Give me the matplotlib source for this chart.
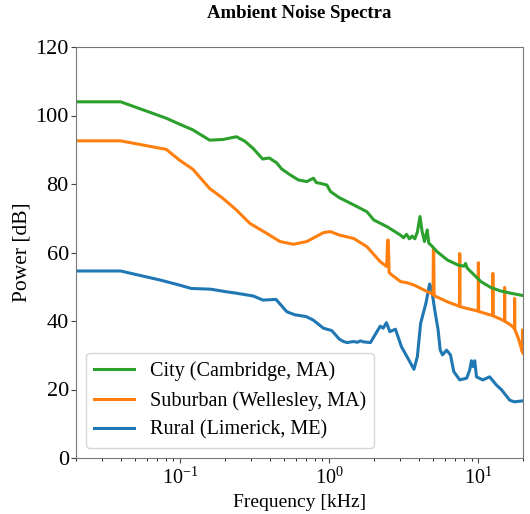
import matplotlib
matplotlib.use("Agg")
import matplotlib.pyplot as plt
import numpy as np

plt.rcParams['font.family'] = ['Liberation Serif', 'DejaVu Serif']
plt.rcParams['mathtext.fontset'] = 'stix'

# City (Cambridge, MA)
city_f = [0.02, 0.04, 0.081, 0.099, 0.122, 0.158, 0.194, 0.239, 0.272, 0.309, 0.358, 0.396,
          0.444, 0.48, 0.546, 0.62, 0.708, 0.784, 0.82, 0.87, 0.965, 1.02, 1.17, 1.46, 1.79,
          1.99, 2.45, 3.0, 3.15, 3.3, 3.45, 3.6, 3.75, 3.9, 4.06, 4.2, 4.35, 4.54, 4.65, 4.8,
          5.3, 6.2, 7.25, 8.0, 8.2, 8.4, 8.9, 10.4, 12.1, 14.0, 15.7, 18.0, 20.0]
city_p = [104, 104, 99.2, 97.5, 95.8, 92.8, 93.0, 93.8, 92.5, 90.4, 87.3, 87.6,
          86.2, 84.4, 82.7, 81.2, 80.7, 81.7, 80.4, 80.2, 79.7, 77.8, 76.0, 73.9, 71.9,
          69.5, 67.5, 65.1, 64.3, 65.3, 64.0, 64.8, 64.0, 66.0, 70.5, 66.0, 63.2, 66.6, 62.7, 62.2,
          60.2, 57.8, 56.4, 56.0, 56.8, 55.5, 54.4, 51.5, 49.8, 48.8, 48.3, 47.8, 47.4]

# Suburban (Wellesley, MA)
sub_f = [0.02, 0.04, 0.081, 0.099, 0.122, 0.158, 0.194, 0.239, 0.294, 0.381, 0.468, 0.575,
         0.708, 0.915, 1.016, 1.17, 1.46, 1.79, 2.2, 2.43, 2.46, 2.49, 2.52, 2.6, 3.01, 3.3,
         3.7, 4.54, 4.97, 4.99, 5.02, 5.05, 6.2, 7.46, 7.5, 7.53, 8.5, 9.96, 10.0, 10.04,
         11.5, 12.46, 12.5, 12.55, 14.0, 14.95, 15.0, 15.06, 16.5, 17.45, 17.5, 17.56,
         18.5, 19.4, 19.7, 19.75, 19.8, 20.0]
sub_p = [92.6, 92.6, 90.1, 87.0, 84.3, 78.7, 75.8, 72.4, 68.5, 65.6, 63.2, 62.4,
         63.2, 65.8, 66.1, 65.1, 64.1, 61.7, 57.3, 55.9, 63.6, 63.6, 54.2, 53.6, 51.5, 51.2,
         50.5, 48.6, 47.8, 61.0, 61.0, 47.4, 45.6, 44.3, 59.7, 44.2, 43.6, 42.9, 57.0, 42.8,
         42.0, 41.6, 53.9, 41.5, 40.6, 40.0, 49.8, 39.9, 38.8, 37.8, 46.6, 37.5,
         35.0, 32.0, 31.0, 37.4, 30.8, 30.5]

# Rural (Limerick, ME)
rur_f = [0.02, 0.04, 0.073, 0.099, 0.119, 0.16, 0.2, 0.24, 0.31, 0.36, 0.44, 0.52, 0.59,
         0.70, 0.78, 0.915, 1.04, 1.17, 1.25, 1.32, 1.45, 1.55, 1.62, 1.7, 1.89, 2.09, 2.2,
         2.3, 2.42, 2.55, 2.78, 3.05, 3.42, 3.70, 3.9, 4.10, 4.45, 4.71, 4.85, 5.1, 5.37,
         5.55, 5.75, 6.12, 6.5, 6.84, 7.5, 8.34, 8.75, 8.98, 9.21, 9.45, 9.71, 10.7, 11.9,
         13.2, 14.3, 16.2, 17.4, 20.0]
rur_p = [54.6, 54.6, 52.0, 50.5, 49.5, 49.3, 48.6, 48.1, 47.3, 46.1, 46.3, 42.7, 41.8,
         41.3, 40.3, 37.9, 37.2, 34.7, 34.0, 33.7, 34.0, 33.8, 34.2, 33.9, 33.7, 36.9, 38.5,
         37.9, 39.5, 36.9, 37.6, 32.5, 28.6, 25.9, 29.6, 39.3, 45.2, 50.8, 49.5, 43.2, 37.4,
         31.5, 30.1, 31.5, 30.1, 25.2, 22.8, 23.3, 25.7, 28.4, 26.7, 28.4, 23.7, 22.8, 23.7,
         21.3, 19.9, 16.9, 16.4, 16.7]

labels = ["City (Cambridge, MA)", "Suburban (Wellesley, MA)", "Rural (Limerick, ME)"]
colors = ["#2ca02c", "#ff7f0e", "#1f77b4"]

fig = plt.figure(figsize=(5.30, 5.14), dpi=100)
ax = fig.add_axes([75.7/530, 1-458/514, (523.3-75.7)/530, (458-47)/514])

l3, = ax.plot(rur_f, rur_p, color=colors[2], lw=2.2, label=labels[2])
l2, = ax.plot(sub_f, sub_p, color=colors[1], lw=2.2, label=labels[1])
l1, = ax.plot(city_f, city_p, color=colors[0], lw=2.2, label=labels[0])

ax.set_xscale('log')
ax.set_xlim(0.02, 20)
ax.set_ylim(0, 120)
ax.set_yticks([0, 20, 40, 60, 80, 100, 120])
ax.tick_params(colors='#444444', labelcolor='black')
ax.tick_params(axis='y', labelsize=16, pad=1.5)
ax.tick_params(axis='x', labelsize=14.5)
for s in ax.spines.values():
    s.set_color('#777777')
ax.set_xlabel("Frequency [kHz]", fontsize=14)
ax.set_ylabel("Power [dB]", fontsize=15.5, labelpad=3)
fig.text(299.5/530, 1-13/514, "Ambient Noise Spectra", ha='center', va='center',
         fontsize=13.5, fontweight='bold')
ax.legend(handles=[l1, l2, l3], loc='lower left', fontsize=14.5)

fig.savefig("out.png", dpi=100)
